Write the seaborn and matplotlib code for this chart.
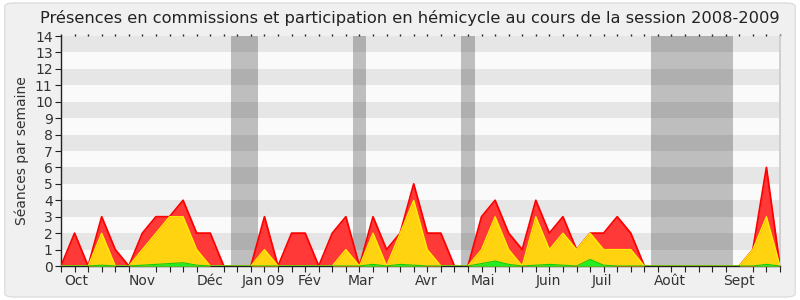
import numpy as np
import pandas as pd
import matplotlib
matplotlib.use("Agg")
import matplotlib.pyplot as plt
import seaborn as sns
from matplotlib.patches import FancyBboxPatch

# ---- data (weekly, session 2008-2009) ----
weeks = list(range(54))
total = [0, 2, 0, 3, 1, 0, 2, 3, 3, 4, 2, 2, 0, 0, 0, 3, 0, 2, 2, 0,
         2, 3, 0, 3, 1, 2, 5, 2, 2, 0, 0, 3, 4, 2, 1, 4, 2, 3, 1, 2,
         2, 3, 2, 0, 0, 0, 0, 0, 0, 0, 0, 1, 6, 0]
commission = [0, 0, 0, 2, 0, 0, 1, 2, 3, 3, 1, 0, 0, 0, 0, 1, 0, 0, 0, 0,
              0, 1, 0, 2, 0, 2, 4, 1, 0, 0, 0, 1, 3, 1, 0, 3, 1, 2, 1, 2,
              1, 1, 1, 0, 0, 0, 0, 0, 0, 0, 0, 1, 3, 0]
hemicycle = [0, 0, 0, 0.05, 0, 0, 0.05, 0.1, 0.15, 0.2, 0.05, 0, 0, 0, 0, 0, 0, 0, 0, 0,
             0, 0, 0, 0.1, 0, 0.1, 0.05, 0, 0, 0, 0, 0.15, 0.3, 0.1, 0, 0.05, 0.1, 0.05, 0, 0.4,
             0.05, 0, 0, 0, 0, 0, 0, 0, 0, 0, 0, 0, 0.1, 0]
vacations = [(12.5, 14.5), (21.5, 22.5), (29.5, 30.5), (43.5, 49.5)]
month_labels = ["Oct", "Nov", "Déc", "Jan 09", "Fév", "Mar", "Avr", "Mai", "Juin", "Juil", "Août", "Sept"]
month_pos = [1.15, 6.0, 11.0, 14.9, 18.3, 22.1, 26.9, 31.1, 35.9, 39.9, 44.9, 50.0]
title = "Présences en commissions et participation en hémicycle au cours de la session 2008-2009"
ylabel = "Séances par semaine"

df = pd.DataFrame({"week": weeks, "total": total, "commission": commission, "hemicycle": hemicycle})

sns.set_theme(style="white")
plt.rcParams["font.family"] = ["DejaVu Sans"]

fig = plt.figure(figsize=(8, 3), dpi=100)
fig.patch.set_facecolor("#ffffff")
border = FancyBboxPatch((0.006, 0.01), 0.988, 0.98, boxstyle="round,pad=0,rounding_size=0.012",
                        transform=fig.transFigure, facecolor="#f0f0f0",
                        edgecolor="#dddddd", linewidth=1.0, zorder=-10)
fig.add_artist(border)
ax = fig.add_axes([0.07625, 0.1133, 0.89875, 0.7667])
ax.set_zorder(1)
ax.set_facecolor("#fafafa")

for k in range(1, 14, 2):
    ax.axhspan(k, k + 1, color="#e6e6e6", lw=0, zorder=0)
for a, b in vacations:
    ax.axvspan(a, b, color="black", alpha=0.24, lw=0, zorder=1)

ax.fill_between(df["week"], 0, df["total"], color="#ff3838", lw=0, zorder=2)
sns.lineplot(data=df, x="week", y="total", color="#ff0000", lw=1.3, ax=ax, zorder=3)
ax.fill_between(df["week"], 0, df["commission"], color="#ffd30f", lw=0, zorder=4)
sns.lineplot(data=df, x="week", y="commission", color="#ffee00", lw=1.0, ax=ax, zorder=5)
ax.fill_between(df["week"], 0, df["hemicycle"], color="#22ee22", lw=0, zorder=6)
sns.lineplot(data=df, x="week", y="hemicycle", color="#11cc11", lw=0.8, ax=ax, zorder=7)

ax.set_xlim(0, 53)
ax.set_ylim(0, 14)
ax.set_yticks(range(0, 15))
ax.set_yticklabels([str(v) for v in range(0, 15)], fontsize=10, color="#333333")
ax.set_xticks(month_pos)
ax.set_xticklabels(month_labels, fontsize=10, color="#333333")
ax.tick_params(axis="x", which="major", length=0, pad=6)
ax.set_xticks(weeks, minor=True)
ax.tick_params(axis="x", which="minor", length=4, width=0.8, color="#222222", direction="out",
               bottom=True, top=False)
ax.tick_params(axis="y", which="major", length=4, width=0.8, color="#222222", direction="out",
               left=True, pad=2)
ax.set_xlabel("")
ax.set_ylabel(ylabel, fontsize=10, color="#333333", labelpad=4)
ax.set_title(title, fontsize=11.7, color="#222222", pad=9, x=0.485)

top = ax.secondary_xaxis("top")
top.set_xticks(weeks)
top.set_xticklabels([])
top.tick_params(axis="x", length=1.5, width=1.0, color="#222222", direction="out")
top.spines["top"].set_visible(False)

for s in ["left", "bottom"]:
    ax.spines[s].set_color("#222222")
    ax.spines[s].set_linewidth(1.0)
ax.spines["top"].set_visible(False)
ax.spines["right"].set_color("#cccccc")

fig.savefig("out.png", dpi=100, facecolor=fig.get_facecolor())
